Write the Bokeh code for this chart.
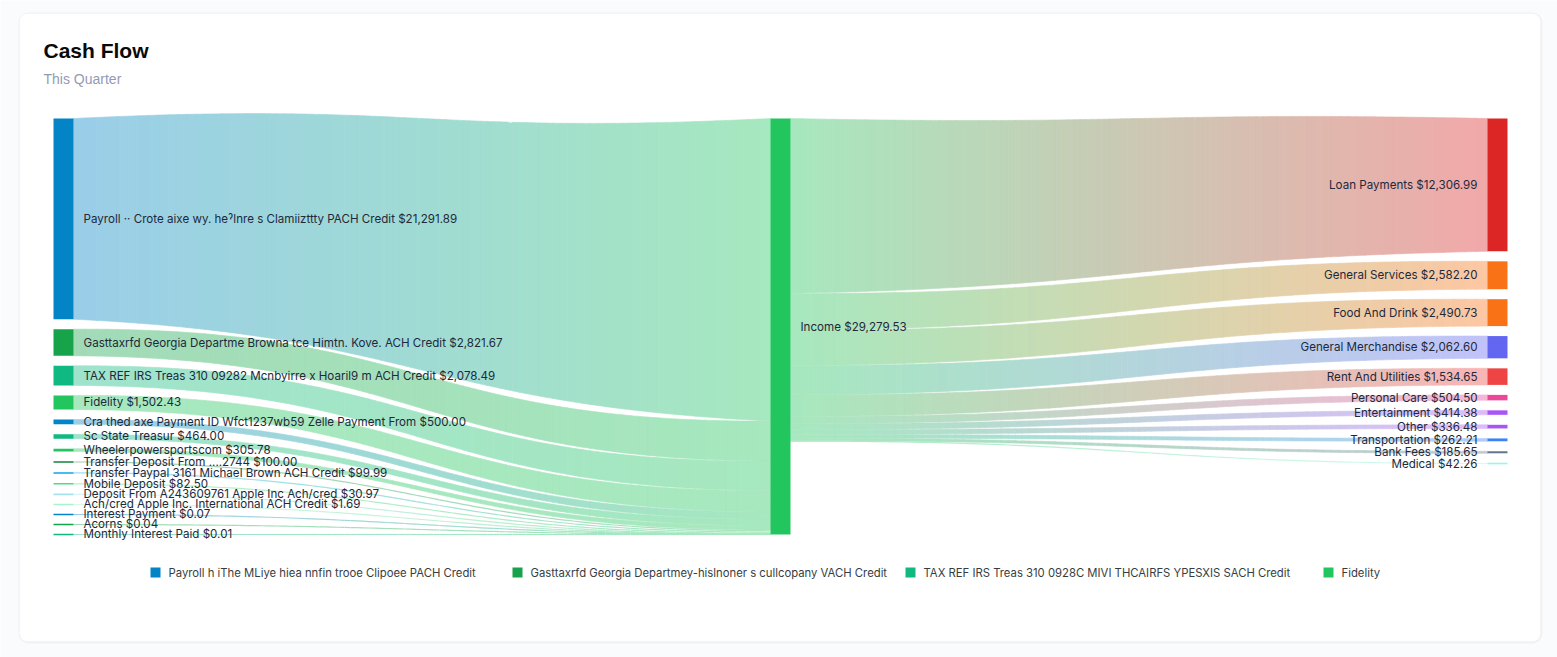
from bokeh.plotting import figure
from bokeh.models import Range1d, BoxAnnotation, ColumnDataSource
from bokeh.core.properties import value
from bokeh.embed import file_html
from bokeh.resources import INLINE

# ---- data -------------------------------------------------------------
income_label = "Income"

source_names = [
    "Payroll ·· Crote aixe wy. heˀlnre s Clamiizttty PACH Credit",
    "Gasttaxrfd Georgia Departme Browna tce Himtn. Kove. ACH Credit",
    "TAX REF IRS Treas 310 09282 Mcnbyirre x Hoaril9 m ACH Credit",
    "Fidelity",
    "Cra thed axe  Payment ID Wfct1237wb59 Zelle Payment From",
    "Sc State Treasur",
    "Wheelerpowersportscom",
    "Transfer Deposit From ....2744",
    "Transfer Paypal 3161 Michael Brown ACH Credit",
    "Mobile Deposit",
    "Deposit From A243609761 Apple Inc Ach/cred",
    "Ach/cred Apple Inc. International ACH Credit",
    "Interest Payment",
    "Acorns",
    "Monthly Interest Paid",
]
source_values = [21291.89, 2821.67, 2078.49, 1502.43, 500.00, 464.00, 305.78,
                 100.00, 99.99, 82.50, 30.97, 1.69, 0.07, 0.04, 0.01]
source_colors = ["#0284c7", "#16a34a", "#10b981", "#22c55e", "#0284c7",
                 "#10b981", "#22c55e", "#15803d", "#0ea5e9", "#4ade80",
                 "#a5e4ec", "#a7f3d0", "#0284c7", "#16a34a", "#10b981"]

target_names = ["Loan Payments", "General Services", "Food And Drink",
                "General Merchandise", "Rent And Utilities", "Personal Care",
                "Entertainment", "Other", "Transportation", "Bank Fees", "Medical"]
target_values = [12306.99, 2582.20, 2490.73, 2062.60, 1534.65, 504.50,
                 414.38, 336.48, 262.21, 185.65, 42.26]
target_colors = ["#dc2626", "#f97316", "#f97316", "#6366f1", "#ef4444",
                 "#ec4899", "#a855f7", "#a855f7", "#3b82f6", "#64748b", "#99f6e4"]

income_color = "#22c55e"

legend_names = [
    "Payroll h iThe MLiye hiea nnfin trooe  Clipoee PACH Credit",
    "Gasttaxrfd Georgia Departmey-hislnoner s cullcopany VACH Credit",
    "TAX REF IRS Treas 310 0928C MIVI THCAIRFS YPESXIS SACH Credit",
    "Fidelity",
]
legend_colors = ["#0284c7", "#16a34a", "#10b981", "#22c55e"]

# ---- layout -----------------------------------------------------------
W, H = 1557, 657
TOP, HEIGHT = 118.0, 416.0
PAD = 10.0
NODE_W = 20.0
X_LEFT, X_MID, X_RIGHT = 53.0, 770.0, 1487.0
LINK_ALPHA = 0.4
N_SLICES = 90

income_value = sum(source_values)
max_total = max(sum(source_values), income_value, sum(target_values))


def column_layout(values):
    k = (HEIGHT - (len(values) - 1) * PAD) / max_total
    ys, y = [], TOP
    for v in values:
        ys.append((y, y + v * k))
        y += v * k + PAD
    return ys, k


left_pos, k_left = column_layout(source_values)
mid_k = HEIGHT / max_total
right_pos, k_right = column_layout(target_values)


def hex_rgb(c):
    c = c.lstrip("#")
    return tuple(int(c[i:i + 2], 16) for i in (0, 2, 4))


def tint(c1, c2, t):
    a, b = hex_rgb(c1), hex_rgb(c2)
    rgb = [(1 - t) * a[i] + t * b[i] for i in range(3)]
    rgb = [LINK_ALPHA * v + (1 - LINK_ALPHA) * 255 for v in rgb]
    return "#%02x%02x%02x" % tuple(int(round(v)) for v in rgb)


def bez(p0, p1, p2, p3, s):
    return ((1 - s) ** 3) * p0 + 3 * ((1 - s) ** 2) * s * p1 + 3 * (1 - s) * s * s * p2 + s ** 3 * p3


patch_xs, patch_ys, patch_c = [], [], []
seg = dict(x0=[], y0=[], x1=[], y1=[], c=[])


def add_link(x0, a0, b0, x1, a1, b1, c_src, c_tgt):
    xm = (x0 + x1) / 2
    c0, c1 = (a0 + b0) / 2, (a1 + b1) / 2
    h0, h1 = (b0 - a0) / 2, (b1 - a1) / 2
    pts = []
    for i in range(N_SLICES + 1):
        s = i / N_SLICES
        x = bez(x0, xm, xm, x1, s)
        c = bez(c0, c0, c1, c1, s)
        h = h0 + (h1 - h0) * s
        pts.append((x, c - h, c + h, c))
    thin = max(h0, h1) * 2 < 1.5
    for i in range(N_SLICES):
        xa, ta, ba, ca = pts[i]
        xb, tb, bb, cb = pts[i + 1]
        t = ((xa + xb) / 2 - x0) / (x1 - x0)
        col = tint(c_src, c_tgt, t)
        if thin:
            seg["x0"].append(xa); seg["y0"].append(ca)
            seg["x1"].append(xb); seg["y1"].append(cb)
            seg["c"].append(col)
        else:
            patch_xs.append([xa, xb + 0.3, xb + 0.3, xa])
            patch_ys.append([ta, tb, bb, ba])
            patch_c.append(col)


# left column -> income
cursor = TOP
for (y0, y1), v, col in zip(left_pos, source_values, source_colors):
    add_link(X_LEFT + NODE_W, y0, y1, X_MID, cursor, cursor + v * mid_k, col, income_color)
    cursor += v * mid_k

# income -> right column
cursor = TOP
for (y0, y1), v, col in zip(right_pos, target_values, target_colors):
    add_link(X_MID + NODE_W, cursor, cursor + v * mid_k, X_RIGHT, y0, y1, income_color, col)
    cursor += v * mid_k

# ---- figure -----------------------------------------------------------
p = figure(width=W, height=H, output_backend="svg", toolbar_location=None,
           x_range=Range1d(0, W), y_range=Range1d(H, 0),
           x_axis_location=None, y_axis_location=None, min_border=0)
p.grid.visible = False
p.outline_line_color = None
p.background_fill_color = "#fafbfc"
p.border_fill_color = "#fafbfc"

# card
p.add_layout(BoxAnnotation(left=18, right=1542, top=12, bottom=643, fill_color="#000000",
                           fill_alpha=0.04, line_color=None, border_radius=10, level="underlay"))
p.add_layout(BoxAnnotation(left=19, right=1540, top=13, bottom=641, fill_color="#ffffff",
                           fill_alpha=1.0, line_color="#eef0f2", line_width=1,
                           border_radius=8, level="underlay"))

# links
p.patches(xs=patch_xs, ys=patch_ys, fill_color=patch_c, line_color=patch_c, line_width=0.6)
p.segment(x0="x0", y0="y0", x1="x1", y1="y1", line_color="c", line_width=1.2,
          source=ColumnDataSource(seg))


def min_h(y0, y1, m=1.6):
    if y1 - y0 >= m:
        return y0, y1
    c = (y0 + y1) / 2
    return c - m / 2, c + m / 2


# nodes
lt, lb = zip(*[min_h(a, b) for a, b in left_pos])
p.quad(left=X_LEFT, right=X_LEFT + NODE_W, top=list(lt), bottom=list(lb),
       fill_color=source_colors, line_color=None)
p.quad(left=[X_MID], right=[X_MID + NODE_W], top=[TOP], bottom=[TOP + HEIGHT],
       fill_color=income_color, line_color=None)
rt, rb = zip(*[min_h(a, b) for a, b in right_pos])
p.quad(left=X_RIGHT, right=X_RIGHT + NODE_W, top=list(rt), bottom=list(rb),
       fill_color=target_colors, line_color=None)

FONT = value("Inter")
LBL = dict(text_font=FONT, text_font_size="11.6px", text_color="#1e293b",
           text_baseline="middle")


def money(v):
    return f"${v:,.2f}"


p.text(x=[X_LEFT + NODE_W + 10] * len(source_names),
       y=[(a + b) / 2 for a, b in left_pos],
       text=[f"{n} {money(v)}" for n, v in zip(source_names, source_values)],
       text_align="left", **LBL)
p.text(x=[X_MID + NODE_W + 10], y=[TOP + HEIGHT / 2],
       text=[f"{income_label} {money(income_value)}"], text_align="left", **LBL)
p.text(x=[X_RIGHT - 10] * len(target_names),
       y=[(a + b) / 2 for a, b in right_pos],
       text=[f"{n} {money(v)}" for n, v in zip(target_names, target_values)],
       text_align="right", **LBL)

# title block
p.text(x=[43], y=[50], text=["Cash Flow"], text_font=value("Liberation Sans"),
       text_font_size="21px", text_font_style="bold", text_color="#0a0a0a",
       text_baseline="middle")
p.text(x=[43], y=[78], text=["This Quarter"], text_font=value("Liberation Sans"),
       text_font_size="14px", text_color="#939bb4", text_baseline="middle")

# legend
leg_x = [150, 512, 905, 1323]
p.rect(x=[x + 5 for x in leg_x], y=[572] * 4, width=10, height=10,
       fill_color=legend_colors, line_color=None)
p.text(x=[x + 18 for x in leg_x], y=[572] * 4, text=legend_names,
       text_font=FONT, text_font_size="11.3px", text_color="#373d3f",
       text_baseline="middle", text_align="left")

open("out.html", "w").write(file_html(p, INLINE))
